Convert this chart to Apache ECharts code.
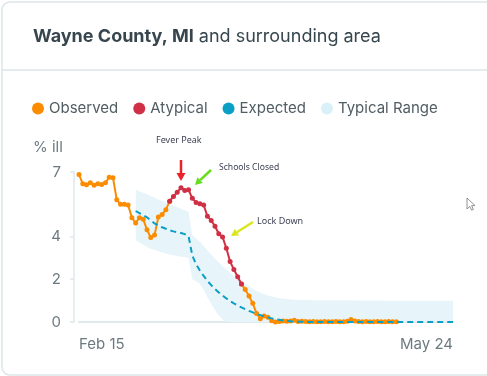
<!DOCTYPE html>
<html>
<head>
<meta charset="utf-8">
<script src="https://cdn.jsdelivr.net/npm/echarts@6/dist/echarts.min.js"></script>
<style>
  html, body { margin: 0; padding: 0; background: #fff; }
  #chart { width: 487px; height: 376px; }
</style>
</head>
<body>
<div id="chart"></div>
<script>
  // Feb 15 2020 .. May 24 2020 (100 days)
  const startDate = new Date(2020, 1, 15);
  const dayCount = 100;
  const xTickLabels = ['Feb 15', 'May 24'];
  const yTicks = [0, 2, 4, 7];

  // observed % ill, index 0 = Feb 15, null where the atypical series takes over
  const observedHead = [6.88, 6.45, 6.4, 6.5, 6.38, 6.45, 6.42, 6.5, 6.76, 6.73,
    5.7, 5.49, 5.49, 5.46, 4.87, 4.62, 4.87, 4.8, 4.3, 3.94,
    4.06, 4.9, 5.02, 5.24, 5.64];
  const observedTailStart = 43;
  const observedTail = [1.77, 1.52, 1.21, 0.87, 0.4, 0.15, 0.28, 0.22, 0.06, 0.0,
    0.02, 0.05, 0.04, 0.05, 0.08, 0.02, 0.03, 0.02, 0.01, 0.02,
    0.01, 0.01, 0.02, 0.01, 0.01, 0.02, 0.01, 0.01, 0.03, 0.12,
    0.05, 0.02, 0.01, 0.02, 0.01, 0.01, 0.02, 0.01, 0.01, 0.02,
    0.01, 0.01];

  // atypical (red) stretch
  const atypicalStart = 24;
  const atypical = [5.64, 5.86, 6.05, 6.27, 6.14, 6.17, 5.77, 5.58, 5.52, 5.46,
    4.93, 4.74, 4.47, 4.12, 3.97, 3.44, 2.82, 2.45, 2.11, 1.77];

  // expected + typical range start on day 15
  const modelStart = 15;
  const expected = [5.18, 5.08, 4.98, 4.88, 4.75, 4.6, 4.5, 4.42, 4.35, 4.28,
    4.23, 4.19, 4.15, 4.1, 4.0, 3.1, 2.7, 2.4, 2.15, 1.92,
    1.72, 1.54, 1.38, 1.24, 1.1, 0.98, 0.87, 0.77, 0.68, 0.6,
    0.52, 0.45, 0.38, 0.32, 0.26, 0.21, 0.17, 0.13, 0.1, 0.07,
    0.05, 0.03, 0.02, 0.01, 0.01, 0, 0, 0, 0, 0,
    0, 0, 0, 0, 0, 0, 0, 0, 0, 0,
    0, 0, 0, 0, 0, 0, 0, 0, 0, 0,
    0, 0, 0, 0, 0, 0, 0, 0, 0, 0,
    0, 0, 0, 0, 0];
  const rangeHigh = [6.18, 6.1, 6.03, 5.96, 5.88, 5.8, 5.72, 5.65, 5.58, 5.5,
    5.42, 5.35, 5.28, 5.22, 5.15, 4.05, 3.9, 3.75, 3.55, 3.35,
    3.15, 2.95, 2.78, 2.6, 2.45, 2.3, 2.15, 2.02, 1.9, 1.78,
    1.66, 1.55, 1.45, 1.37, 1.3, 1.24, 1.19, 1.15, 1.12, 1.09,
    1.07, 1.05, 1.04, 1.03, 1.03, 1.03, 1.03, 1.02, 1.02, 1.02,
    1.02, 1.02, 1.01, 1.01, 1.01, 1.01, 1.01, 1.01, 1.0, 1.0,
    1.0, 1.0, 1.0, 1.0, 1.0, 1.0, 1.0, 0.99, 0.99, 0.99,
    0.99, 0.99, 0.99, 0.99, 0.99, 0.99, 0.99, 0.99, 0.99, 0.99,
    0.99, 0.99, 0.99, 0.99, 0.99];
  const rangeLow = [3.81, 3.7, 3.6, 3.5, 3.42, 3.36, 3.3, 3.25, 3.2, 3.15,
    3.12, 3.08, 3.05, 3.02, 3.0, 2.0, 1.9, 1.78, 1.5, 1.15,
    0.85, 0.55, 0.3, 0.12, 0, 0, 0, 0, 0, 0,
    0, 0, 0, 0, 0, 0, 0, 0, 0, 0,
    0, 0, 0, 0, 0, 0, 0, 0, 0, 0,
    0, 0, 0, 0, 0, 0, 0, 0, 0, 0,
    0, 0, 0, 0, 0, 0, 0, 0, 0, 0,
    0, 0, 0, 0, 0, 0, 0, 0, 0, 0,
    0, 0, 0, 0, 0];

  const FONT = 'Inter';
  const months = ['Jan', 'Feb', 'Mar', 'Apr', 'May', 'Jun'];

  // place a short array into a full-length one starting at `start`
  function place(arr, start) {
    const out = new Array(dayCount).fill(null);
    arr.forEach((v, i) => { out[start + i] = v; });
    return out;
  }

  const days = [];
  for (let i = 0; i < dayCount; i++) {
    const d = new Date(startDate.getTime());
    d.setDate(d.getDate() + i);
    days.push(months[d.getMonth()] + ' ' + d.getDate());
  }
  const categories = days.map((name, i) => {
    if (i === 0) return {value: name, textStyle: {align: 'left'}};
    if (i === dayCount - 1) return {value: name, textStyle: {align: 'right'}};
    return name;
  });

  const observed = place(observedHead, 0);
  observedTail.forEach((v, i) => { observed[observedTailStart + i] = v; });
  const rangeSpan = rangeHigh.map((v, i) => +(v - rangeLow[i]).toFixed(2));

  const myChart = echarts.init(document.getElementById('chart'));

  const option = {
    animation: false,
    backgroundColor: '#fff',
    title: {
      left: 33,
      top: 28,
      padding: 0,
      text: '{b|Wayne County, MI} {n|and surrounding area}',
      textStyle: {
        rich: {
          b: {fontFamily: FONT, fontWeight: 'bold', fontSize: 18, color: '#37464e'},
          n: {fontFamily: FONT, fontWeight: 'normal', fontSize: 18, color: '#37464e'}
        }
      }
    },
    legend: {
      left: 32,
      top: 101,
      padding: 0,
      icon: 'circle',
      itemWidth: 12,
      itemHeight: 12,
      itemGap: 15,
      textStyle: {fontFamily: FONT, fontSize: 15, color: '#505d63'},
      data: [
        {name: 'Observed', itemStyle: {color: '#fb8c00', borderWidth: 0}},
        {name: 'Atypical', itemStyle: {color: '#cf3045', borderWidth: 0}},
        {name: 'Expected', itemStyle: {color: '#0aa0c6', borderWidth: 0}},
        {name: 'Typical Range', itemStyle: {color: '#d9f0f8', borderWidth: 0}}
      ]
    },
    grid: {
      left: 79,
      right: 34,
      top: 172,
      bottom: 54,
      outerBoundsMode: 'none'
    },
    xAxis: {
      type: 'category',
      boundaryGap: false,
      data: categories,
      axisLine: {lineStyle: {color: '#dfe8eb', width: 2}},
      axisTick: {show: false},
      axisLabel: {
        interval: (i) => i === 0 || i === dayCount - 1,
        formatter: (val, i) => (i === 0 ? xTickLabels[0] : xTickLabels[1]),
        margin: 15,
        fontFamily: FONT,
        fontSize: 15,
        color: '#6c7a80'
      },
      splitLine: {show: false}
    },
    yAxis: {
      type: 'value',
      min: 0,
      max: 7,
      interval: 1,
      offset: 5,
      axisLine: {show: true, lineStyle: {color: '#dfe8eb', width: 1.5}},
      axisTick: {show: true, customValues: yTicks, length: 4, lineStyle: {color: '#dfe8eb', width: 1.5}},
      axisLabel: {customValues: yTicks, margin: 13, fontFamily: FONT, fontSize: 15, color: '#6c7a80'},
      splitLine: {show: false}
    },
    series: [
      {
        name: 'rangeBase',
        type: 'line',
        stack: 'band',
        data: place(rangeLow, modelStart),
        symbol: 'none',
        lineStyle: {opacity: 0},
        silent: true,
        z: 1
      },
      {
        name: 'Typical Range',
        type: 'line',
        stack: 'band',
        data: place(rangeSpan, modelStart),
        symbol: 'none',
        lineStyle: {opacity: 0},
        itemStyle: {color: '#d9f0f8'},
        areaStyle: {color: '#e7f5fa', opacity: 1},
        silent: true,
        z: 1
      },
      {
        name: 'Observed',
        type: 'line',
        data: observed,
        symbol: 'circle',
        symbolSize: 5,
        showAllSymbol: true,
        itemStyle: {color: '#fb8c00'},
        lineStyle: {color: '#fb8c00', width: 2},
        z: 3
      },
      {
        name: 'Expected',
        type: 'line',
        data: place(expected, modelStart),
        symbol: 'none',
        itemStyle: {color: '#0aa0c6'},
        lineStyle: {color: '#0aa0c6', width: 2, type: [6, 4]},
        z: 4
      },
      {
        name: 'Atypical',
        type: 'line',
        data: place(atypical, atypicalStart),
        symbol: 'circle',
        symbolSize: 5,
        showAllSymbol: true,
        itemStyle: {color: '#cf3045'},
        lineStyle: {color: '#cf3045', width: 2},
        z: 5
      }
    ],
    graphic: [
      // card border + header separator
      {type: 'rect', shape: {x: 2, y: 2, width: 492, height: 373, r: 8}, style: {fill: 'none', stroke: '#dce6e9', lineWidth: 1.5}, silent: true},
      {type: 'line', shape: {x1: 2, y1: 70, x2: 487, y2: 70}, style: {stroke: '#dce6e9', lineWidth: 1.5}, silent: true},
      {type: 'text', left: 33, top: 140, style: {text: '% ill', fontFamily: FONT, fontSize: 15, fill: '#6c7a80'}},
      // annotations
      {type: 'text', left: 156, top: 136, style: {text: 'Fever Peak', fontFamily: 'Noto Sans', fontSize: 9, fill: '#3c3f52'}},
      {type: 'text', left: 219, top: 163, style: {text: 'Schools Closed', fontFamily: 'Noto Sans', fontSize: 8.6, fill: '#3c3f52'}},
      {type: 'text', left: 257, top: 217, style: {text: 'Lock Down', fontFamily: 'Noto Sans', fontSize: 9, fill: '#3c3f52'}},
      {type: 'line', shape: {x1: 181, y1: 160, x2: 181, y2: 174}, style: {stroke: '#e8232a', lineWidth: 2.5}},
      {type: 'polygon', shape: {points: [[176.5, 173], [185.5, 173], [181, 181]]}, style: {fill: '#e8232a'}},
      {type: 'line', shape: {x1: 211, y1: 170, x2: 200.1, y2: 180.2}, style: {stroke: '#64de1e', lineWidth: 2.5}},
      {type: 'polygon', shape: {points: [[202.8, 183.1], [197.4, 177.3], [195, 185]]}, style: {fill: '#64de1e'}},
      {type: 'line', shape: {x1: 253, y1: 222, x2: 236.9, y2: 232.2}, style: {stroke: '#dbe61c', lineWidth: 2.5}},
      {type: 'polygon', shape: {points: [[239.1, 235.6], [234.8, 228.8], [231, 236]]}, style: {fill: '#dbe61c'}},
      // mouse pointer left in the screenshot
      {type: 'polygon', shape: {points: [[467, 198], [467, 209], [469.8, 206.4], [471.6, 210.2], [473.4, 209.4], [471.6, 205.6], [475, 205.6]]}, style: {fill: '#fff', stroke: '#777', lineWidth: 0.8}}
    ]
  };

  myChart.setOption(option);
</script>
</body>
</html>
